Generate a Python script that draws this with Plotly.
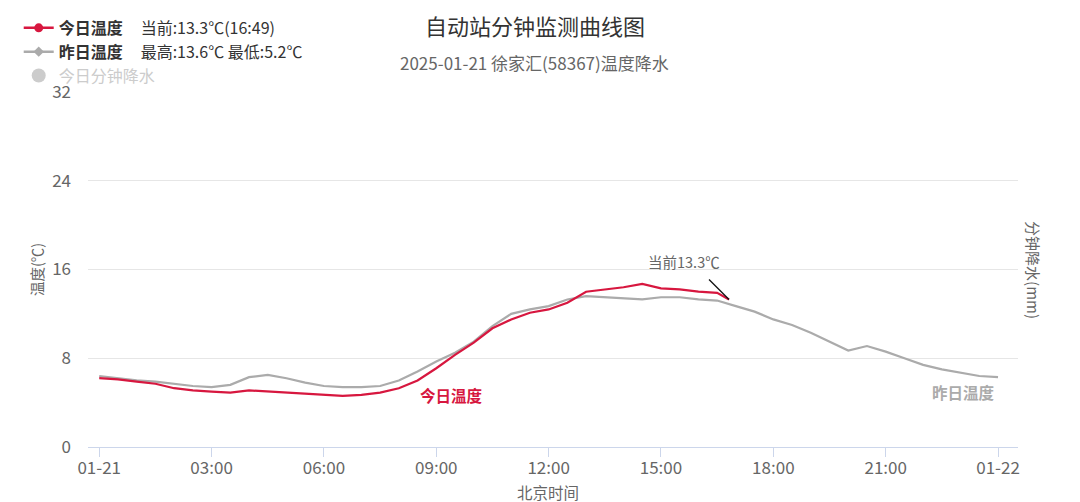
import pandas as pd
import plotly.graph_objects as go

FONT = "Noto Sans CJK SC"

# ---------------- data (30-min steps) ----------------
yesterday_vals = [
    6.4, 6.2, 6.0, 5.9, 5.7, 5.5, 5.4, 5.6, 6.3, 6.5,
    6.2, 5.8, 5.5, 5.4, 5.4, 5.5, 6.0, 6.8, 7.7, 8.5,
    9.5, 10.9, 12.0, 12.4, 12.7, 13.3, 13.6, 13.5, 13.4, 13.3,
    13.5, 13.5, 13.3, 13.2, 12.7, 12.2, 11.5, 11.0, 10.3, 9.5,
    8.7, 9.1, 8.6, 8.0, 7.4, 7.0, 6.7, 6.4, 6.3,
]
today_vals = [
    6.2, 6.1, 5.9, 5.7, 5.3, 5.1, 5.0, 4.9, 5.1, 5.0,
    4.9, 4.8, 4.7, 4.6, 4.7, 4.9, 5.3, 6.0, 7.1, 8.3,
    9.4, 10.7, 11.5, 12.1, 12.4, 13.0, 14.0, 14.2, 14.4, 14.7,
    14.3, 14.2, 14.0, 13.9, 13.3,
]
day = "2025-01-21"
yesterday_times = pd.date_range(f"{day} 00:00", periods=len(yesterday_vals), freq="30min")
today_times = list(pd.date_range(f"{day} 00:00", periods=len(today_vals) - 1, freq="30min")) + [
    pd.Timestamp(f"{day} 16:49")
]
current_val = 13.3
current_time = f"{day} 16:49"

tick_vals = pd.date_range(f"{day} 00:00", "2025-01-22 00:00", freq="3h")
tick_text = ["01-21", "03:00", "06:00", "09:00", "12:00", "15:00", "18:00", "21:00", "01-22"]
y_ticks = [0, 8, 16, 24, 32]

RED = "#d7173f"
GRAY = "#ababab"

fig = go.Figure()

# data lines
fig.add_trace(go.Scatter(x=yesterday_times, y=yesterday_vals, mode="lines",
                         line=dict(color=GRAY, width=2.2), showlegend=False,
                         hoverinfo="skip"))
fig.add_trace(go.Scatter(x=today_times, y=today_vals, mode="lines",
                         line=dict(color=RED, width=2.2), showlegend=False,
                         hoverinfo="skip"))

# legend-only entries
fig.add_trace(go.Scatter(x=[None], y=[None], mode="lines+markers",
                         line=dict(color=RED, width=2.5),
                         marker=dict(color=RED, size=9, symbol="circle"),
                         name="<b>今日温度</b>\u00a0\u00a0\u00a0\u00a0\u00a0当前:13.3℃(16:49)",
                         legendgroup="a"))
fig.add_trace(go.Scatter(x=[None], y=[None], mode="lines+markers",
                         line=dict(color=GRAY, width=2.5),
                         marker=dict(color=GRAY, size=8, symbol="diamond"),
                         name="<b>昨日温度</b>\u00a0\u00a0\u00a0\u00a0\u00a0最高:13.6℃ 最低:5.2℃",
                         legendgroup="b"))
fig.add_trace(go.Scatter(x=[None], y=[None], mode="markers",
                         marker=dict(color="#cccccc", size=14, symbol="circle"),
                         name="<span style='color:#cccccc'>今日分钟降水</span>",
                         legendgroup="c"))


def ann(text, x, y, size, color, xref="paper", yref="paper", angle=0, bold=False):
    return dict(text=f"<b>{text}</b>" if bold else text, xref=xref, yref=yref, x=x, y=y,
                xanchor="center", yanchor="middle", textangle=angle, showarrow=False,
                font=dict(size=size, color=color, family=FONT))


annotations = [
    ann("自动站分钟监测曲线图", 0.4806, 1.19, 22, "#333333"),
    ann("2025-01-21 徐家汇(58367)温度降水", 0.4806, 1.0845, 17, "#666666"),
    ann("温度(℃)", -0.0548, 0.4986, 14.5, "#666666", angle=-90),
    ann("分钟降水(mm)", 1.016, 0.4986, 15, "#666666", angle=90),
    ann("北京时间", 0.4946, -0.127, 15.5, "#666666"),
    ann("今日温度", f"{day} 09:25", 4.7, 15.5, RED, "x", "y", bold=True),
    ann("昨日温度", f"{day} 23:04", 4.96, 15.5, GRAY, "x", "y", bold=True),
    ann("当前13.3℃", f"{day} 15:37", 16.7, 14.5, "#666666", "x", "y"),
    dict(text=" ", x=current_time, y=current_val, showarrow=True, ax=-22, ay=-22,
         arrowhead=0, arrowwidth=1.3, arrowcolor="#111111", font=dict(size=4)),
]

fig.update_layout(
    width=1072, height=494,
    margin=dict(l=80, r=62, t=84, b=55, autoexpand=False),
    paper_bgcolor="white", plot_bgcolor="white",
    font=dict(family=FONT, color="#333333"),
    annotations=annotations,
    legend=dict(xref="container", yref="container", x=0.01, y=0.994,
                xanchor="left", yanchor="top", orientation="v",
                font=dict(size=16, color="#333333", family=FONT),
                tracegroupgap=0, bgcolor="rgba(0,0,0,0)", itemwidth=30),
    showlegend=True,
)
fig.update_xaxes(
    type="date",
    range=["2025-01-20 23:42", "2025-01-22 00:32"],
    tickvals=tick_vals, ticktext=tick_text,
    ticks="outside", ticklen=9, tickcolor="#ccd6eb", tickwidth=1,
    ticklabelstandoff=-3,
    showline=True, linecolor="#ccd6eb", linewidth=1,
    showgrid=False, zeroline=False,
    tickfont=dict(size=17, color="#666666", family=FONT),
)
fig.update_yaxes(
    range=[0, 32], tickvals=y_ticks,
    showgrid=True, gridcolor="#e6e6e6", gridwidth=1,
    zeroline=False, showline=False, ticks="",
    ticklabelstandoff=16,
    tickfont=dict(size=17, color="#666666", family=FONT),
)

fig.write_html("out.html")
